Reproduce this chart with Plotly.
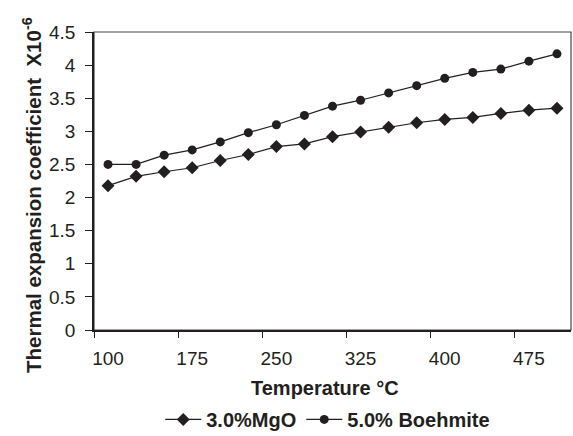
import plotly.graph_objects as go

temperature = [100, 125, 150, 175, 200, 225, 250, 275, 300, 325, 350, 375, 400, 425, 450, 475, 500]
mgo = [2.18, 2.32, 2.39, 2.45, 2.56, 2.65, 2.77, 2.81, 2.92, 2.99, 3.06, 3.13, 3.18, 3.21, 3.27, 3.32, 3.35]
boehmite = [2.50, 2.50, 2.64, 2.72, 2.84, 2.98, 3.10, 3.24, 3.38, 3.47, 3.58, 3.69, 3.80, 3.89, 3.94, 4.06, 4.17]
x_labels = [100, 175, 250, 325, 400, 475]
y_ticks = [0, 0.5, 1, 1.5, 2, 2.5, 3, 3.5, 4, 4.5]

FONT = "Liberation Sans, Arial, sans-serif"
INK = "#231f20"

fig = go.Figure()
fig.add_trace(go.Scatter(
    x=temperature, y=mgo, name="3.0%MgO", mode="lines+markers",
    line=dict(color=INK, width=1.2),
    marker=dict(symbol="diamond", size=10, color=INK),
))
fig.add_trace(go.Scatter(
    x=temperature, y=boehmite, name="5.0% Boehmite", mode="lines+markers",
    line=dict(color=INK, width=1.2),
    marker=dict(symbol="circle", size=9, color=INK),
))

step = 25
fig.update_layout(
    width=573, height=436,
    margin=dict(l=94, r=2, t=32, b=106, autoexpand=False),
    paper_bgcolor="white", plot_bgcolor="white",
    font=dict(family=FONT, color=INK, size=19),
    showlegend=True,
    legend=dict(orientation="h", x=0.49, xanchor="center", y=-0.30, yanchor="middle",
                font=dict(size=20, family=FONT, weight="bold"),
                itemwidth=36, tracegroupgap=0, borderwidth=0),
    xaxis=dict(
        range=[temperature[0] - step / 2, temperature[-1] + step / 2],
        tickmode="array",
        tickvals=[v - step / 2 for v in x_labels],
        ticktext=[str(v) for v in x_labels],
        ticklabelshift=14,
        ticklabelstandoff=4,
        ticks="outside", ticklen=6, tickcolor=INK, tickwidth=1,
        showline=True, linecolor=INK, linewidth=1.5, mirror=False,
        showgrid=False, zeroline=False,
        tickfont=dict(size=19),
    ),
    yaxis=dict(
        range=[0, 4.5],
        tickmode="array", tickvals=y_ticks, ticktext=[f"{v:g}" for v in y_ticks],
        ticks="outside", ticklen=7, tickcolor=INK, tickwidth=1,
        showline=True, linecolor=INK, linewidth=1.5,
        showgrid=False, zeroline=False,
        tickfont=dict(size=19),
        ticklabelstandoff=6,
    ),
    annotations=[
        dict(text="Temperature\u00a0\u00b0C", xref="paper", yref="paper",
             x=(325 - 94) / 477, y=-(388 - 330) / 298, xanchor="center", yanchor="middle",
             showarrow=False, font=dict(size=20, weight="bold")),
        dict(text="Thermal expansion coefficient\u00a0\u00a0X10<sup>-6</sup>", xref="paper", yref="paper",
             x=-(94 - 32) / 477, y=(330 - 195) / 298, xanchor="center", yanchor="middle",
             textangle=-90, showarrow=False, font=dict(size=20.5, weight="bold")),
    ],
    shapes=[dict(type="rect", xref="paper", yref="paper", x0=0, y0=0, x1=1, y1=1,
                 line=dict(color="#444", width=1.2), layer="below")],
)

fig.write_html("out.html")
